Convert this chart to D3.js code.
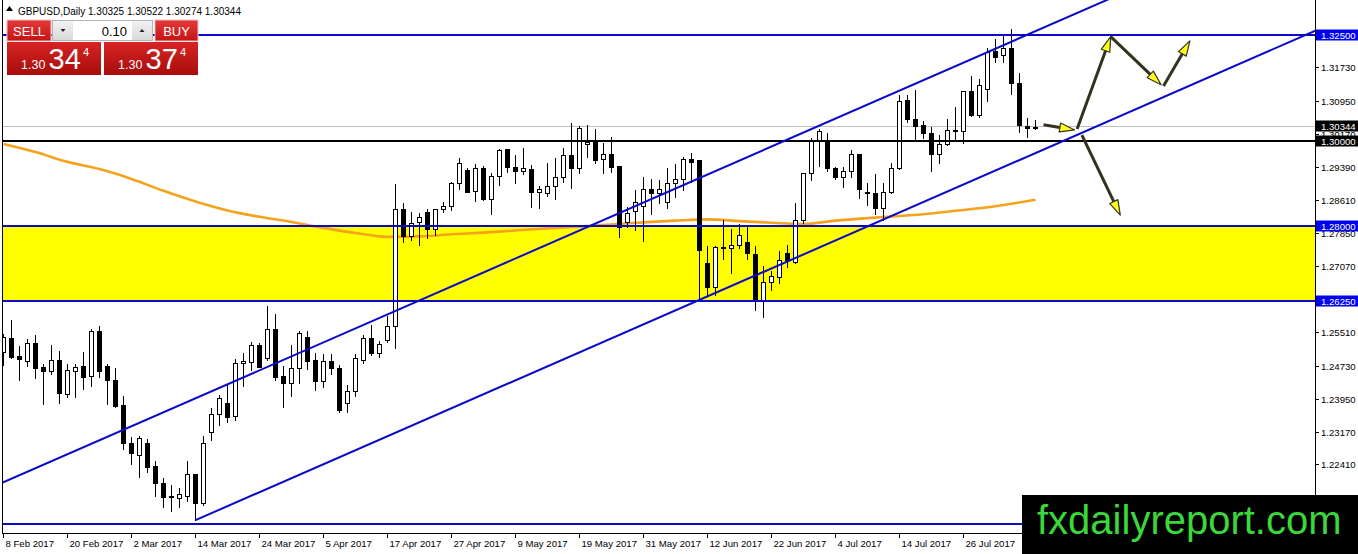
<!DOCTYPE html>
<html lang="en">
<head>
<meta charset="UTF-8">
<title>GBPUSD Daily</title>
<style>
  body { margin: 0; background: #fff; }
  svg { display: block; font-family: "Liberation Sans", Arial, sans-serif; }
</style>
</head>
<body>
<svg id="chart" width="1358" height="554"></svg>
<script src="https://d3js.org/d3.v7.min.js"></script>
<script>
// daily bars from 8 Feb 2017, [open, high, low, close]
const candles = [
  [1.2505, 1.2549, 1.2474, 1.2539], [1.2537, 1.2582, 1.2490, 1.2494], [1.2495, 1.2521, 1.2439, 1.2489],
  [1.2484, 1.2537, 1.2472, 1.2525], [1.2525, 1.2547, 1.2443, 1.2466], [1.2469, 1.2478, 1.2382, 1.2459],
  [1.2459, 1.2523, 1.2453, 1.2487], [1.2487, 1.2509, 1.2386, 1.2408], [1.2405, 1.2480, 1.2400, 1.2462],
  [1.2460, 1.2480, 1.2400, 1.2470], [1.2472, 1.2507, 1.2419, 1.2445], [1.2448, 1.2560, 1.2426, 1.2554],
  [1.2554, 1.2568, 1.2447, 1.2461], [1.2472, 1.2478, 1.2382, 1.2440], [1.2440, 1.2469, 1.2375, 1.2378],
  [1.2380, 1.2404, 1.2278, 1.2292], [1.2292, 1.2307, 1.2241, 1.2267], [1.2264, 1.2310, 1.2212, 1.2302],
  [1.2290, 1.2302, 1.2223, 1.2235], [1.2237, 1.2252, 1.2167, 1.2198], [1.2198, 1.2212, 1.2140, 1.2165],
  [1.2166, 1.2194, 1.2132, 1.2164], [1.2163, 1.2187, 1.2140, 1.2171], [1.2167, 1.2251, 1.2155, 1.2218],
  [1.2218, 1.2220, 1.2110, 1.2150], [1.2150, 1.2310, 1.2145, 1.2292], [1.2317, 1.2376, 1.2298, 1.2358],
  [1.2358, 1.2406, 1.2333, 1.2396], [1.2386, 1.2433, 1.2340, 1.2353], [1.2355, 1.2491, 1.2345, 1.2478],
  [1.2478, 1.2504, 1.2425, 1.2483], [1.2482, 1.2530, 1.2462, 1.2521], [1.2521, 1.2529, 1.2469, 1.2470],
  [1.2491, 1.2615, 1.2487, 1.2558], [1.2558, 1.2596, 1.2439, 1.2447], [1.2448, 1.2474, 1.2376, 1.2431],
  [1.2431, 1.2523, 1.2402, 1.2466], [1.2466, 1.2556, 1.2431, 1.2549], [1.2539, 1.2556, 1.2464, 1.2484],
  [1.2486, 1.2505, 1.2415, 1.2437], [1.2437, 1.2503, 1.2422, 1.2483], [1.2483, 1.2503, 1.2453, 1.2466],
  [1.2466, 1.2476, 1.2364, 1.2368], [1.2384, 1.2429, 1.2364, 1.2413], [1.2413, 1.2503, 1.2401, 1.2490],
  [1.2487, 1.2546, 1.2478, 1.2537], [1.2537, 1.2570, 1.2498, 1.2502], [1.2502, 1.2534, 1.2494, 1.2523],
  [1.2533, 1.2592, 1.2529, 1.2566], [1.2566, 1.2902, 1.2513, 1.2840], [1.2840, 1.2856, 1.2763, 1.2778],
  [1.2778, 1.2836, 1.2767, 1.2808], [1.2809, 1.2833, 1.2756, 1.2821], [1.2834, 1.2842, 1.2772, 1.2793],
  [1.2793, 1.2843, 1.2779, 1.2840], [1.2840, 1.2859, 1.2834, 1.2848], [1.2847, 1.2906, 1.2838, 1.2901],
  [1.2901, 1.2963, 1.2887, 1.2948], [1.2932, 1.2940, 1.2880, 1.2881], [1.2883, 1.2948, 1.2859, 1.2936],
  [1.2936, 1.2944, 1.2861, 1.2865], [1.2865, 1.2928, 1.2828, 1.2919], [1.2919, 1.2984, 1.2897, 1.2979],
  [1.2981, 1.2984, 1.2927, 1.2938], [1.2938, 1.2969, 1.2901, 1.2930], [1.2930, 1.2985, 1.2922, 1.2936],
  [1.2934, 1.2945, 1.2846, 1.2881], [1.2881, 1.2897, 1.2842, 1.2887], [1.2879, 1.2951, 1.2871, 1.2894],
  [1.2894, 1.2963, 1.2865, 1.2915], [1.2915, 1.2987, 1.2904, 1.2967], [1.2967, 1.3044, 1.2889, 1.2936],
  [1.2936, 1.3038, 1.2924, 1.3031], [1.2993, 1.3040, 1.2963, 1.2998], [1.2998, 1.3030, 1.2948, 1.2955],
  [1.2957, 1.2998, 1.2924, 1.2970], [1.2970, 1.3012, 1.2928, 1.2940], [1.2941, 1.2942, 1.2774, 1.2799],
  [1.2809, 1.2847, 1.2797, 1.2830], [1.2836, 1.2887, 1.2791, 1.2857], [1.2847, 1.2918, 1.2766, 1.2887],
  [1.2887, 1.2912, 1.2829, 1.2879], [1.2879, 1.2910, 1.2854, 1.2887], [1.2857, 1.2940, 1.2842, 1.2902],
  [1.2901, 1.2949, 1.2868, 1.2910], [1.2910, 1.2965, 1.2885, 1.2957], [1.2957, 1.2974, 1.2904, 1.2951],
  [1.2955, 1.2957, 1.2628, 1.2744], [1.2713, 1.2756, 1.2638, 1.2658], [1.2658, 1.2756, 1.2638, 1.2752],
  [1.2752, 1.2816, 1.2722, 1.2748], [1.2748, 1.2795, 1.2689, 1.2756], [1.2756, 1.2807, 1.2748, 1.2779],
  [1.2762, 1.2805, 1.2724, 1.2736], [1.2735, 1.2756, 1.2603, 1.2627], [1.2627, 1.2709, 1.2588, 1.2668],
  [1.2668, 1.2697, 1.2650, 1.2682], [1.2680, 1.2743, 1.2666, 1.2721], [1.2736, 1.2758, 1.2705, 1.2721],
  [1.2716, 1.2857, 1.2713, 1.2814], [1.2814, 1.2927, 1.2807, 1.2924], [1.2924, 1.3010, 1.2908, 1.3002],
  [1.3002, 1.3030, 1.2942, 1.3024], [1.2998, 1.3021, 1.2930, 1.2936], [1.2936, 1.2941, 1.2910, 1.2916],
  [1.2916, 1.2942, 1.2891, 1.2930], [1.2930, 1.2981, 1.2916, 1.2969], [1.2969, 1.2971, 1.2866, 1.2887],
  [1.2880, 1.2904, 1.2850, 1.2877], [1.2877, 1.2924, 1.2829, 1.2842], [1.2842, 1.2904, 1.2814, 1.2881],
  [1.2881, 1.2951, 1.2877, 1.2936], [1.2936, 1.3111, 1.2934, 1.3094], [1.3096, 1.3111, 1.3045, 1.3051],
  [1.3051, 1.3122, 1.3002, 1.3035], [1.3038, 1.3049, 1.3006, 1.3018], [1.3018, 1.3035, 1.2930, 1.2969],
  [1.2969, 1.3016, 1.2949, 1.2993], [1.2992, 1.3053, 1.2991, 1.3026], [1.3024, 1.3082, 1.3001, 1.3026],
  [1.3024, 1.3120, 1.2996, 1.3118], [1.3118, 1.3155, 1.3059, 1.3061], [1.3061, 1.3147, 1.3057, 1.3132],
  [1.3121, 1.3221, 1.3094, 1.3210], [1.3212, 1.3241, 1.3186, 1.3198], [1.3202, 1.3249, 1.3186, 1.3218],
  [1.3218, 1.3265, 1.3110, 1.3136], [1.3136, 1.3163, 1.3020, 1.3038], [1.3035, 1.3057, 1.3010, 1.3030],
  [1.3033, 1.3052, 1.3027, 1.3034]
];

// moving average, [bar index, value]
const maPoints = [
  [0, 1.2993], [4, 1.2974], [8, 1.2951], [12, 1.2934], [16, 1.2911], [20, 1.2883], [24, 1.2858],
  [28, 1.2837], [32, 1.2822], [36, 1.2810], [40, 1.2796], [44, 1.2784], [48, 1.2775], [52, 1.2776],
  [56, 1.2781], [60, 1.2785], [64, 1.2790], [68, 1.2795], [72, 1.2799], [76, 1.2804], [80, 1.2809],
  [84, 1.2813], [88, 1.2816], [92, 1.2812], [96, 1.2808], [100, 1.2805], [104, 1.2813], [108, 1.2819],
  [112, 1.2824], [116, 1.2830], [120, 1.2838], [124, 1.2847], [129, 1.2862]
];

const xLabels = ["8 Feb 2017", "20 Feb 2017", "2 Mar 2017", "14 Mar 2017", "24 Mar 2017", "5 Apr 2017",
  "17 Apr 2017", "27 Apr 2017", "9 May 2017", "19 May 2017", "31 May 2017", "12 Jun 2017",
  "22 Jun 2017", "4 Jul 2017", "14 Jul 2017", "26 Jul 2017"];
const barsPerLabel = 8;

const priceTicks = [1.3173, 1.3095, 1.3017, 1.2939, 1.2861, 1.2785, 1.2707, 1.2629,
  1.2551, 1.2473, 1.2395, 1.2317, 1.2241, 1.2163];

const blueLevels = [1.3250, 1.2800, 1.2625, 1.2100];
const labelledBlue = [1.3250, 1.2800, 1.2625];
const blackLevel = 1.3000;
const zone = [1.2625, 1.2800];
const quote = [1.30325, 1.30522, 1.30274, 1.30344];
const bid = 1.30344;
const ask = 1.30374;
const lotSize = "0.10";

// channel lines, two anchors each: [bar, price]
const channelUpper = [[0, 1.2199], [130, 1.3266]];
const channelLower = [[24, 1.2110], [130, 1.2980]];

// drawn projection arrows: [[bar, price] from, [bar, price] to]
const arrows = [
  [[130.0, 1.3038], [133.9, 1.3026]],
  [[134.2, 1.3028], [138.4, 1.3245]],
  [[138.4, 1.3245], [144.7, 1.3132]],
  [[145.0, 1.3129], [148.3, 1.3235]],
  [[134.8, 1.3014], [139.6, 1.2826]]
];

const W = 1358, H = 554;
const plotLeft = 3, plotRight = 1315, plotBottom = 533;
const blue = '#0a0ac8';

const x = d3.scaleLinear().domain([0, 164]).range([3.5, 1315.5]);
const y = d3.scaleLinear().domain([1.2625, 1.325]).range([300.75, 34.5]);
const snap = v => Math.round(v) + 0.5;

const svg = d3.select('#chart');
const defs = svg.append('defs');
defs.append('clipPath').attr('id', 'plot')
  .append('rect').attr('x', plotLeft).attr('y', 0)
  .attr('width', plotRight - plotLeft).attr('height', plotBottom);

function gradient(id, c1, c2) {
  const lg = defs.append('linearGradient').attr('id', id)
    .attr('x1', 0).attr('y1', 0).attr('x2', 0).attr('y2', 1);
  lg.append('stop').attr('offset', '0%').attr('stop-color', c1);
  lg.append('stop').attr('offset', '100%').attr('stop-color', c2);
}
gradient('btnRed', '#e43a3a', '#c41414');
gradient('boxRed', '#d62424', '#a80c0c');
gradient('btnGrey', '#f2f2f2', '#d8d8d8');

const plot = svg.append('g').attr('clip-path', 'url(#plot)');

// yellow zone
plot.append('rect')
  .attr('x', plotLeft).attr('width', plotRight - plotLeft)
  .attr('y', y(zone[1])).attr('height', y(zone[0]) - y(zone[1]))
  .attr('fill', '#ffff00');

// bid line
plot.append('line')
  .attr('x1', plotLeft).attr('x2', plotRight)
  .attr('y1', snap(y(bid))).attr('y2', snap(y(bid)))
  .attr('stroke', '#c0c0c0').attr('stroke-width', 1);

// moving average
plot.append('path')
  .datum(maPoints)
  .attr('d', d3.line().x(d => x(d[0])).y(d => y(d[1])).curve(d3.curveMonotoneX))
  .attr('fill', 'none').attr('stroke', '#f5a21c').attr('stroke-width', 2.6);

// candles
const bars = plot.append('g').attr('shape-rendering', 'crispEdges')
  .selectAll('g').data(candles).enter().append('g');

bars.append('line')
  .attr('x1', (d, i) => x(i)).attr('x2', (d, i) => x(i))
  .attr('y1', d => snap(y(d[1]))).attr('y2', d => snap(y(d[2])))
  .attr('stroke', '#000');

bars.append('rect')
  .attr('x', (d, i) => x(i) - 2).attr('width', 4)
  .attr('y', d => snap(y(Math.max(d[0], d[3]))))
  .attr('height', d => Math.max(1, snap(y(Math.min(d[0], d[3]))) - snap(y(Math.max(d[0], d[3])))))
  .attr('fill', d => d[3] >= d[0] ? '#fff' : '#000')
  .attr('stroke', '#000');

// horizontal levels
plot.selectAll('line.level').data(blueLevels).enter().append('line')
  .attr('x1', plotLeft).attr('x2', plotRight)
  .attr('y1', d => Math.round(y(d))).attr('y2', d => Math.round(y(d)))
  .attr('stroke', blue).attr('stroke-width', 2);

plot.append('line')
  .attr('x1', plotLeft).attr('x2', plotRight)
  .attr('y1', Math.round(y(blackLevel))).attr('y2', Math.round(y(blackLevel)))
  .attr('stroke', '#000').attr('stroke-width', 2);

// channel
function ray(pts, fromBar, toBar) {
  const [[b1, p1], [b2, p2]] = pts;
  const k = (p2 - p1) / (b2 - b1);
  return [[fromBar, p1 + (fromBar - b1) * k], [toBar, p1 + (toBar - b1) * k]];
}
const chan = [ray(channelUpper, -1, 164), ray(channelLower, channelLower[0][0], 164)];
plot.selectAll('line.chan').data(chan).enter().append('line')
  .attr('x1', d => x(d[0][0])).attr('y1', d => y(d[0][1]))
  .attr('x2', d => x(d[1][0])).attr('y2', d => y(d[1][1]))
  .attr('stroke', blue).attr('stroke-width', 2);

// arrows
arrows.forEach(a => {
  const x1 = x(a[0][0]), y1 = y(a[0][1]), x2 = x(a[1][0]), y2 = y(a[1][1]);
  const ang = Math.atan2(y2 - y1, x2 - x1);
  const len = 15, half = 4.5;
  const bx = x2 - len * Math.cos(ang), by = y2 - len * Math.sin(ang);
  plot.append('line')
    .attr('x1', x1).attr('y1', y1).attr('x2', bx).attr('y2', by)
    .attr('stroke', '#34321c').attr('stroke-width', 3);
  const pts = [
    [x2, y2],
    [bx + half * Math.sin(ang), by - half * Math.cos(ang)],
    [bx - half * Math.sin(ang), by + half * Math.cos(ang)]
  ];
  plot.append('polygon')
    .attr('points', pts.map(p => p.join(',')).join(' '))
    .attr('fill', '#ffff1a').attr('stroke', '#34321c').attr('stroke-width', 1.2)
    .attr('stroke-linejoin', 'round');
});

// frame and axes
const frame = svg.append('g').attr('shape-rendering', 'crispEdges');
frame.append('line').attr('x1', 2.5).attr('x2', 2.5).attr('y1', 0).attr('y2', plotBottom + 0.5).attr('stroke', '#000');
frame.append('line').attr('x1', plotRight + 0.5).attr('x2', plotRight + 0.5).attr('y1', 0).attr('y2', plotBottom + 0.5).attr('stroke', '#000');
frame.append('line').attr('x1', 2).attr('x2', plotRight + 1).attr('y1', plotBottom + 0.5).attr('y2', plotBottom + 0.5).attr('stroke', '#000');

// price axis
const yAxis = svg.append('g');
priceTicks.forEach(v => {
  const yy = snap(y(v));
  yAxis.append('line').attr('x1', plotRight + 1).attr('x2', plotRight + 4)
    .attr('y1', yy).attr('y2', yy).attr('stroke', '#000').attr('shape-rendering', 'crispEdges');
  yAxis.append('text').attr('x', 1321).attr('y', yy + 3.5)
    .attr('font-size', '9.6px').attr('fill', '#000').text(v.toFixed(5));
});

function priceBox(v, fill) {
  const yy = Math.round(y(v));
  yAxis.append('rect').attr('x', plotRight + 1).attr('y', yy - 5.5)
    .attr('width', W - plotRight - 1).attr('height', 11).attr('fill', fill);
  yAxis.append('text').attr('x', 1321).attr('y', yy + 3.5)
    .attr('font-size', '9.6px').attr('fill', '#fff').text(v.toFixed(5));
}
labelledBlue.forEach(v => priceBox(v, '#0000f0'));
priceBox(blackLevel, '#000');
priceBox(bid, '#000');

// time axis
const xAxis = svg.append('g');
xLabels.forEach((lab, k) => {
  const xx = snap(x(k * barsPerLabel)) - 1;
  xAxis.append('line').attr('x1', xx).attr('x2', xx)
    .attr('y1', plotBottom + 1).attr('y2', plotBottom + 5)
    .attr('stroke', '#000').attr('shape-rendering', 'crispEdges');
  xAxis.append('text').attr('x', xx + 2).attr('y', 547)
    .attr('font-size', '9.6px').attr('fill', '#000').text(lab);
});

// header
svg.append('path').attr('d', 'M6,11 L9.5,6 L13,11 Z').attr('fill', '#000');
svg.append('text').attr('x', 18).attr('y', 14.5).attr('font-size', '10px').attr('fill', '#000')
  .text('GBPUSD,Daily  ' + quote.map(v => v.toFixed(5)).join(' '));

// one-click trading panel
const panel = svg.append('g');
panel.append('rect').attr('x', 7).attr('y', 20).attr('width', 44).attr('height', 21)
  .attr('fill', 'url(#btnRed)').attr('stroke', '#f0c0c0');
panel.append('text').attr('x', 29).attr('y', 35.5).attr('text-anchor', 'middle')
  .attr('font-size', '13px').attr('fill', '#fff').text('SELL');
panel.append('rect').attr('x', 155).attr('y', 20).attr('width', 43).attr('height', 21)
  .attr('fill', 'url(#btnRed)').attr('stroke', '#f0c0c0');
panel.append('text').attr('x', 176.5).attr('y', 35.5).attr('text-anchor', 'middle')
  .attr('font-size', '13px').attr('fill', '#fff').text('BUY');

panel.append('rect').attr('x', 52.5).attr('y', 20.5).attr('width', 100).attr('height', 20)
  .attr('fill', '#fff').attr('stroke', '#b4b4b4');
panel.append('rect').attr('x', 53).attr('y', 21).attr('width', 20).attr('height', 19).attr('fill', 'url(#btnGrey)');
panel.append('rect').attr('x', 132).attr('y', 21).attr('width', 20).attr('height', 19).attr('fill', 'url(#btnGrey)');
panel.append('path').attr('d', 'M60.5,29 L65.5,29 L63,32 Z').attr('fill', '#222');
panel.append('path').attr('d', 'M139.5,32 L144.5,32 L142,29 Z').attr('fill', '#222');
panel.append('text').attr('x', 127).attr('y', 35.5).attr('text-anchor', 'end')
  .attr('font-size', '13px').attr('fill', '#000').text(lotSize);

function priceTile(x0, price) {
  const s = price.toFixed(5);
  panel.append('rect').attr('x', x0).attr('y', 42).attr('width', 94).attr('height', 33)
    .attr('fill', 'url(#boxRed)');
  panel.append('text').attr('x', x0 + 14).attr('y', 69).attr('font-size', '12.5px')
    .attr('fill', '#fff').text(s.slice(0, 4));
  panel.append('text').attr('x', x0 + 41.5).attr('y', 68.5).attr('font-size', '29px')
    .attr('fill', '#fff').text(s.slice(4, 6));
  panel.append('text').attr('x', x0 + 76).attr('y', 55.5).attr('font-size', '11px')
    .attr('fill', '#fff').text(s.slice(6));
}
priceTile(7, bid);
priceTile(104, ask);

// watermark
svg.append('rect').attr('x', 1022).attr('y', 495).attr('width', W - 1022).attr('height', H - 495).attr('fill', '#000');
svg.append('text').attr('x', 1037).attr('y', 534).attr('font-size', '40px')
  .attr('fill', '#3ad83a').text('fxdailyreport.com');
</script>
</body>
</html>
